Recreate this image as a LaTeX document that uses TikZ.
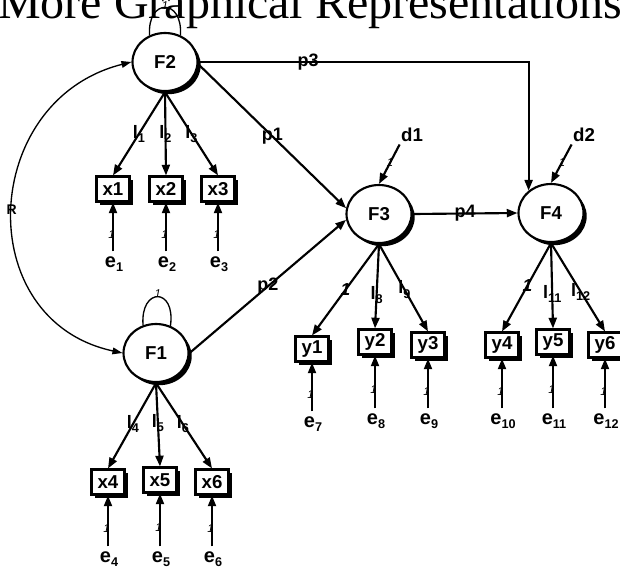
\documentclass[tikz,border=0pt]{standalone}
\usepackage{fontspec}
\setmainfont{Liberation Sans}
\newfontfamily\headfont{Liberation Serif}
\usetikzlibrary{shapes.geometric,arrows.meta,shadows}

% lowered index after a symbol (e_1, l_1 ...)
\newcommand{\lsub}[1]{\raisebox{-0.45ex}{\fontsize{9.5}{10}\selectfont #1}}

\tikzset{
  thickline/.style={line width=1.6pt},
  boxshadow/.style={drop shadow={shadow xshift=2.4pt,shadow yshift=-2.4pt,opacity=1,fill=black}},
  latent/.style={ellipse,draw,thickline,fill=white,boxshadow,
    minimum width=48.75pt,minimum height=43.5pt,inner sep=0pt,
    font=\fontsize{14}{15}\selectfont\bfseries},
  manifest/.style={rectangle,draw,thickline,fill=white,boxshadow,
    minimum width=24.75pt,minimum height=18.75pt,inner sep=0pt,
    font=\fontsize{14}{15}\selectfont\bfseries},
  patharrow/.style={thickline,-{Triangle[length=8pt,width=6pt]}},
  covarrow/.style={line width=1pt,{Triangle[length=7.5pt,width=5pt]}-{Triangle[length=7.5pt,width=5pt]}},
  loopline/.style={line width=1pt},
  pathlbl/.style={font=\fontsize{13.5}{15}\selectfont\bfseries,inner sep=0pt},
  errlbl/.style={font=\fontsize{15}{16}\selectfont\bfseries,inner sep=0pt,anchor=base},
  unitlbl/.style={font=\fontsize{8.5}{9}\selectfont\itshape,inner sep=0pt},
}

\begin{document}
\begin{tikzpicture}[x=0.75pt,y=-0.75pt]
\useasboundingbox (0,0) rectangle (620,568);

% heading
\node[font=\headfont\fontsize{36}{40}\selectfont,anchor=base,inner sep=0pt] (title) at (310,18) {More Graphical Representations};

% latent factors
\node[latent] (F2) at (165,62) {F2};
\node[latent] (F1) at (156,353) {F1};
\node[latent] (F3) at (379,214) {F3};
\node[latent] (F4) at (551,213) {F4};

% indicators
\node[manifest] (x1) at (113,189) {x1};
\node[manifest] (x2) at (166,189) {x2};
\node[manifest] (x3) at (218,189) {x3};
\node[manifest] (x4) at (108,482) {x4};
\node[manifest] (x5) at (160,480) {x5};
\node[manifest] (x6) at (212,482) {x6};
\node[manifest] (y1) at (312,349) {y1};
\node[manifest] (y2) at (375,342) {y2};
\node[manifest] (y3) at (428,345) {y3};
\node[manifest] (y4) at (502,345) {y4};
\node[manifest] (y5) at (553,342) {y5};
\node[manifest] (y6) at (605,345) {y6};

% error terms
\node[errlbl] (e1) at (114,267) {e\lsub{1}};
\node[errlbl] (e2) at (167,267) {e\lsub{2}};
\node[errlbl] (e3) at (219,267) {e\lsub{3}};
\node[errlbl] (e4) at (109,562) {e\lsub{4}};
\node[errlbl] (e5) at (161,562) {e\lsub{5}};
\node[errlbl] (e6) at (213,562) {e\lsub{6}};
\node[errlbl] (e7) at (313,427) {e\lsub{7}};
\node[errlbl] (e8) at (376,424) {e\lsub{8}};
\node[errlbl] (e9) at (429,424) {e\lsub{9}};
\node[errlbl] (e10) at (503,424) {e\lsub{10}};
\node[errlbl] (e11) at (554,424) {e\lsub{11}};
\node[errlbl] (e12) at (606,424) {e\lsub{12}};

\foreach \e/\v in {e1/x1,e2/x2,e3/x3,e4/x4,e5/x5,e6/x6,e7/y1,e8/y2,e9/y3,e10/y4,e11/y5,e12/y6}
  \draw[patharrow,shorten <=3.5pt] (\v.south |- \e.north) -- (\v.south)
    node[unitlbl,pos=0.4,xshift=-1.2pt] {1};

% disturbances
\node[pathlbl,font=\fontsize{14}{15}\selectfont\bfseries] (d1) at (412,135) {d1};
\node[pathlbl,font=\fontsize{14}{15}\selectfont\bfseries] (d2) at (584,135) {d2};
\draw[patharrow,shorten <=2pt] (d1.south west) -- (F3.north) node[unitlbl,pos=0.5] {1};
\draw[patharrow,shorten <=2pt] (d2.south west) -- (F4.north) node[unitlbl,pos=0.5] {1};

% factor variances
\draw[loopline] (F2.120) .. controls (147,-2) and (183,-2) .. (F2.60) node[unitlbl,pos=0.5,yshift=1pt] {1};
\draw[loopline] (F1.115) .. controls (140,287) and (176,287) .. (F1.62) node[unitlbl,pos=0.5,yshift=2pt] {1};

% covariance between F1 and F2
\draw[covarrow] (F1.west) .. controls (-30,320) and (-20,100) .. (F2.west)
  node[pos=0.5,xshift=-1pt,font=\fontsize{10.5}{11}\selectfont\bfseries,inner sep=0pt] {R};

% loadings of F2
\draw[patharrow] (F2.south) -- (x1.north) node[pathlbl,pos=0.5] {l\lsub{1}};
\draw[patharrow] (F2.south) -- (x2.north) node[pathlbl,pos=0.5] {l\lsub{2}};
\draw[patharrow] (F2.south) -- (x3.north) node[pathlbl,pos=0.5] {l\lsub{3}};

% loadings of F1
\draw[patharrow] (F1.south) -- (x4.north) node[pathlbl,pos=0.48] {l\lsub{4}};
\draw[patharrow] (F1.south) -- (x5.north) node[pathlbl,pos=0.48] {l\lsub{5}};
\draw[patharrow] (F1.south) -- (x6.north) node[pathlbl,pos=0.48] {l\lsub{6}};

% loadings of F3
\draw[patharrow] (F3.south) -- (y1.north) node[pathlbl,pos=0.5,font=\fontsize{13}{14}\selectfont\bfseries\itshape] {1};
\draw[patharrow] (F3.south) -- (y2.north) node[pathlbl,pos=0.6] {l\lsub{8}};
\draw[patharrow] (F3.south) -- (y3.north) node[pathlbl,pos=0.52] {l\lsub{9}};

% loadings of F4
\draw[patharrow] (F4.south) -- (y4.north) node[pathlbl,pos=0.48,font=\fontsize{13}{14}\selectfont\bfseries\itshape] {1};
\draw[patharrow] (F4.south) -- (y5.north) node[pathlbl,pos=0.6] {l\lsub{11}};
\draw[patharrow] (F4.south) -- (y6.north) node[pathlbl,pos=0.55] {l\lsub{12}};

% structural paths
\draw[patharrow] (F2.-4) -- (F3.170) node[pathlbl,pos=0.5] {p1};
\draw[patharrow] (F1.east) -- (F3.190) node[pathlbl,pos=0.5] {p2};
\draw[patharrow] (F2.east) -| (F4.135) node[pathlbl,pos=0.166] {p3};
\draw[patharrow] (F3.east) -- (F4.west) node[pathlbl,pos=0.5] {p4};

\end{tikzpicture}
\end{document}
